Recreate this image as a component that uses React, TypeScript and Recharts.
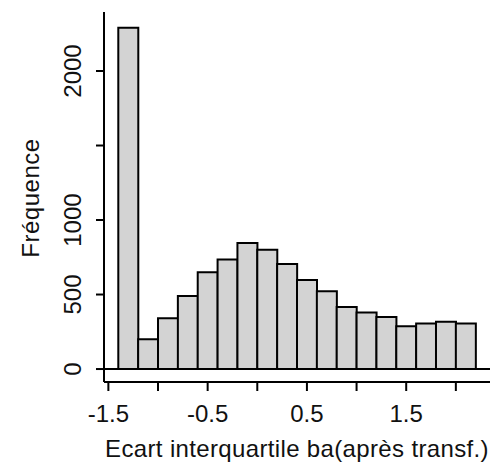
import React from 'react';
import { ComposedChart, Bar, XAxis, YAxis, ReferenceLine, Label } from 'recharts';

// histogram bins (midpoints, width 0.2) and counts
const binMids = [-1.3, -1.1, -0.9, -0.7, -0.5, -0.3, -0.1, 0.1, 0.3, 0.5, 0.7, 0.9, 1.1, 1.3, 1.5, 1.7, 1.9, 2.1];
const counts = [2290, 200, 340, 490, 650, 735, 845, 800, 705, 597, 522, 416, 380, 350, 287, 306, 318, 306];

const xTicks = [-1.5, -1, -0.5, 0, 0.5, 1, 1.5, 2];
const xLabelled = [-1.5, -0.5, 0.5, 1.5];
const yTicks = [0, 500, 1000, 1500, 2000];
const yLabelled = [0, 500, 1000, 2000];

const data = binMids.map((mid, i) => ({ mid, count: counts[i] }));

const FONT = '"Liberation Sans", Arial, sans-serif';
const INK = '#111';

const XTick = (props: any) => {
  const { x, y, payload } = props;
  if (!xLabelled.includes(payload.value)) return null;
  return (
    <text x={x} y={y + 29} textAnchor="middle" fontFamily={FONT} fontSize={24} fill={INK}>
      {payload.value}
    </text>
  );
};

const YTick = (props: any) => {
  const { x, y, payload } = props;
  if (!yLabelled.includes(payload.value)) return null;
  const bx = x - 13;
  return (
    <text x={bx} y={y} transform={`rotate(-90 ${bx} ${y})`} textAnchor="middle" fontFamily={FONT} fontSize={24} fill={INK}>
      {payload.value}
    </text>
  );
};

export default function App() {
  return (
    <div style={{ position: 'absolute', left: 0, top: 0, background: '#fff' }}>
      <ComposedChart
        width={492}
        height={469}
        data={data}
        margin={{ top: 12, right: 2, bottom: 0, left: 0 }}
        barCategoryGap={0}
        barGap={0}
      >
        <XAxis
          dataKey="mid"
          type="number"
          domain={[-1.544, 2.344]}
          allowDataOverflow
          ticks={xTicks}
          interval={0}
          height={87}
          tickSize={9}
          tick={<XTick />}
          stroke="#000"
          strokeWidth={2}
        >
          <Label
            content={() => (
              <text x={297} y={457} textAnchor="middle" fontFamily={FONT} fontSize={24} letterSpacing={0.35} fill={INK}>
                Ecart interquartile ba(après transf.)
              </text>
            )}
          />
        </XAxis>
        <XAxis xAxisId="top" orientation="top" type="number" domain={[-1.544, 2.344]} allowDataOverflow height={0} tick={false} tickLine={false} stroke="#000" strokeWidth={2} />
        <YAxis
          type="number"
          domain={[-87, 2396]}
          allowDataOverflow
          ticks={yTicks}
          interval={0}
          width={104}
          tickSize={8}
          tick={<YTick />}
          stroke="#000"
          strokeWidth={2}
        >
          <Label
            content={() => (
              <text x={39} y={198} transform="rotate(-90 39 198)" textAnchor="middle" fontFamily={FONT} fontSize={24} letterSpacing={0.5} fill={INK}>
                Fréquence
              </text>
            )}
          />
        </YAxis>
        <YAxis yAxisId="right" orientation="right" type="number" domain={[-87, 2396]} allowDataOverflow width={0} tick={false} tickLine={false} stroke="#000" strokeWidth={2} />
        <ReferenceLine y={0} stroke="#000" strokeWidth={2} />
        <Bar dataKey="count" fill="#d3d3d3" stroke="#000" strokeWidth={2} isAnimationActive={false} />
      </ComposedChart>
    </div>
  );
}
